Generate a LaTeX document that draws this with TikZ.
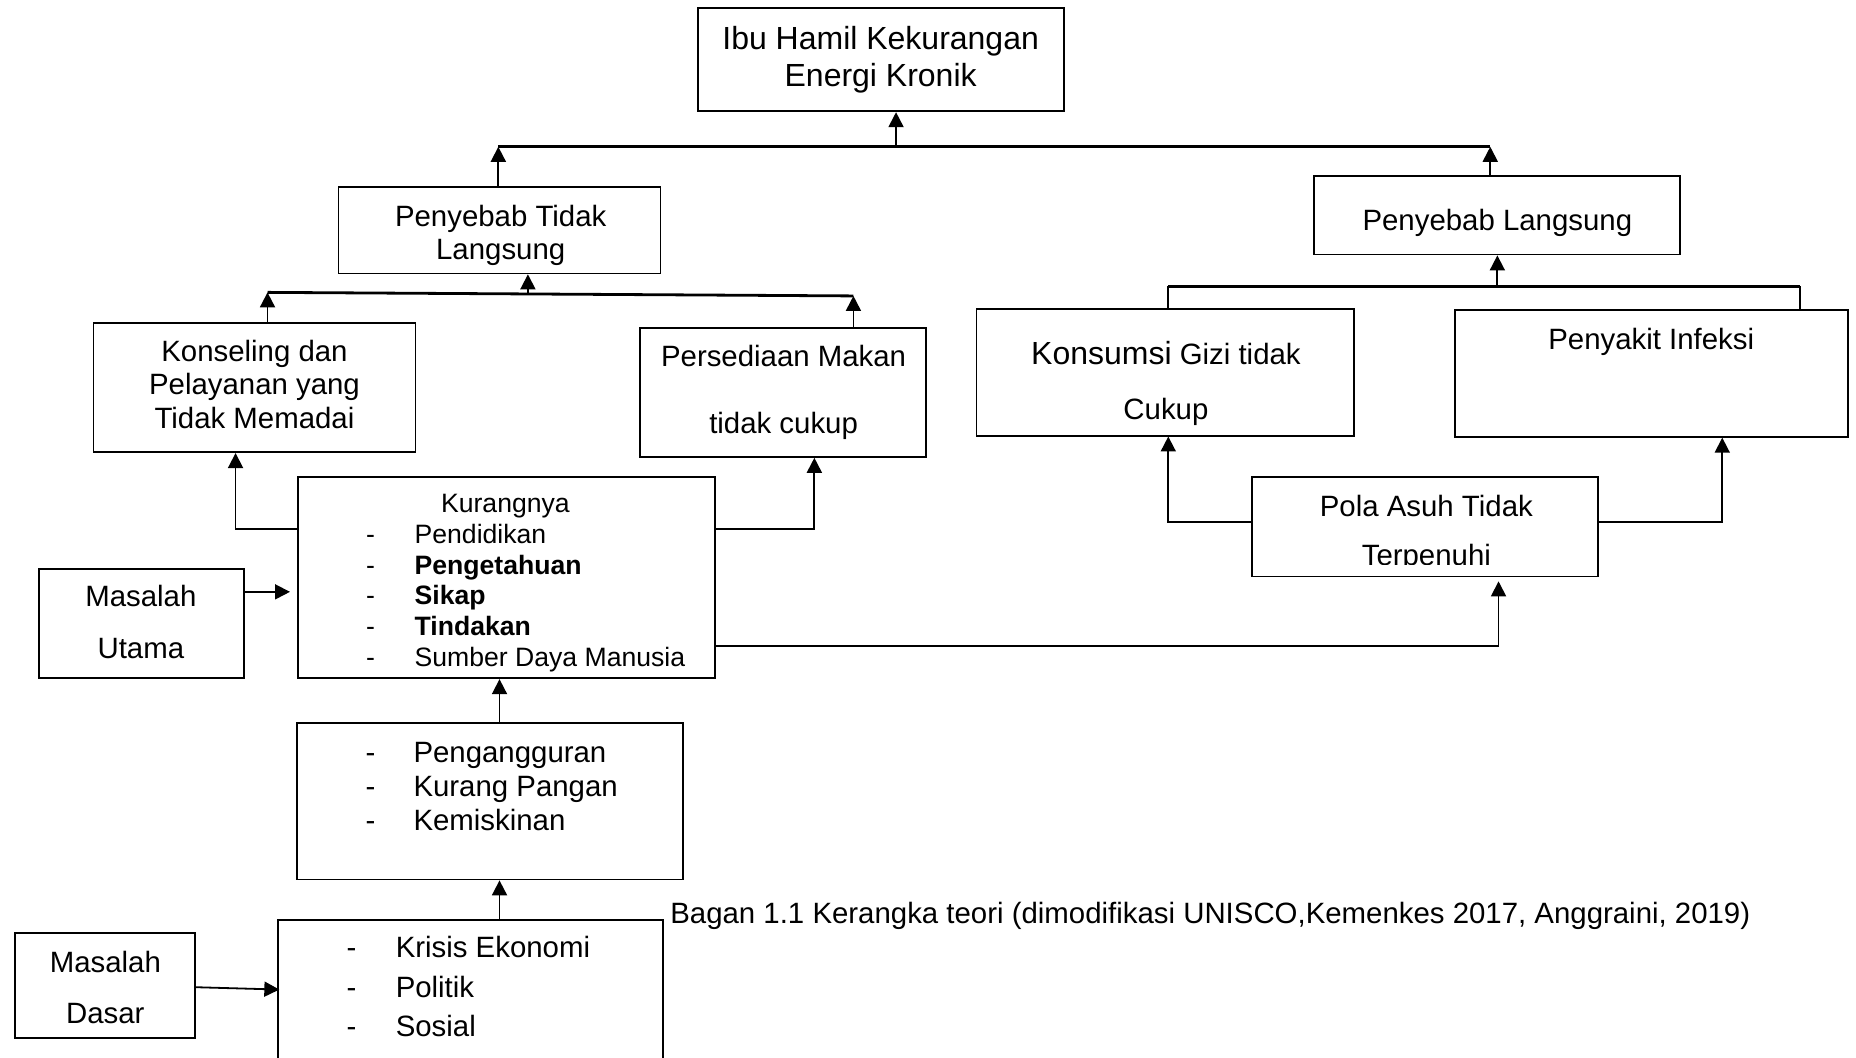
\documentclass[tikz,border=0pt]{standalone}
\usepackage{fontspec}
\setmainfont{Liberation Sans}
\usetikzlibrary{arrows.meta,fit}
\begin{document}
\begin{tikzpicture}[x=0.592pt,y=-0.592pt,
  box/.style={draw, line width=0.9pt, inner sep=0pt},
  conn/.style={line width=0.9pt},
  bus/.style={line width=1.4pt},
  arr/.style={conn, -{Triangle[length=7.5pt,width=7.5pt]}},
  big/.style={font=\fontsize{16}{19}\selectfont, anchor=base, inner sep=0pt},
  txt/.style={font=\fontsize{14.7}{17}\selectfont, anchor=base, inner sep=0pt},
  sml/.style={font=\fontsize{13.3}{15}\selectfont, anchor=base, inner sep=0pt},
  item/.style={txt, anchor=base west},
  sitem/.style={sml, anchor=base west},
  ]
\useasboundingbox[fill=white] (0,0) rectangle (1568,893);

% boxes
\node[box, fit={(590,7) (899,94)}] (top) {};
\node[box, fit={(286,158) (558,231)}] (ptl) {};
\node[box, fit={(1110,149) (1419,215)}] (pl) {};
\node[box, fit={(79,273) (351,382)}] (kons) {};
\node[box, fit={(541,277) (782,386)}] (pers) {};
\node[box, fit={(252,403) (604,573)}] (kur) {};
\node[box, fit={(33,481) (206,573)}] (mu) {};
\node[box, fit={(251,611) (577,743)}] (peng) {};
\node[box, fit={(235,777) (560,905)}] (kris) {};
\node[box, fit={(13,788) (165,877)}] (md) {};
\node[box, fit={(825,261) (1144,368)}] (kgz) {};
\node[box, fit={(1229,262) (1561,369)}] (pi) {};
\node[box, fit={(1058,403) (1350,487)}] (pola) {};

% texts
\node[big] (t1a) at (744,42) {Ibu Hamil Kekurangan};
\node[big] (t1b) at (744,73) {Energi Kronik};
\node[txt] (t2a) at (423,191) {Penyebab Tidak};
\node[txt] (t2b) at (423,219) {Langsung};
\node[txt] (t3) at (1265,195) {Penyebab Langsung};
\node[txt] (t4a) at (215,305) {Konseling dan};
\node[txt] (t4b) at (215,333) {Pelayanan yang};
\node[txt] (t4c) at (215,362) {Tidak Memadai};
\node[txt] (t5a) at (662,310) {Persediaan Makan};
\node[txt] (t5b) at (662,366) {tidak cukup};
\node[txt] (t6a) at (985,308) {{\fontsize{16}{19}\selectfont Konsumsi} Gizi tidak};
\node[txt] (t6b) at (985,354) {Cukup};
\node[txt] (t7) at (1395,295) {Penyakit Infeksi};
\node[txt] (t8a) at (1205,436) {Pola Asuh Tidak};
\begin{scope}
  \clip (1058,403) rectangle (1350,477);
  \node[txt] (t8b) at (1205,478) {Terpenuhi};
\end{scope}
\node[sml] (t9) at (427,433) {Kurangnya};
\foreach \y/\s [count=\i] in {459/Pendidikan,485/\textbf{Pengetahuan},511/\textbf{Sikap},537/\textbf{Tindakan},563/Sumber Daya Manusia}{
  \node[sml] (kd\i) at (313,\y) {-};
  \node[sitem] (ki\i) at (350,\y) {\s};
}
\node[txt] (t10a) at (119,512) {Masalah};
\node[txt] (t10b) at (119,556) {Utama};
\foreach \y/\s [count=\i] in {644/Pengangguran,673/Kurang Pangan,702/Kemiskinan}{
  \node[txt] (pd\i) at (313,\y) {-};
  \node[item] (pi\i) at (349,\y) {\s};
}
\foreach \y/\s [count=\i] in {809/Krisis Ekonomi,843/Politik,876/Sosial}{
  \node[txt] (rd\i) at (297,\y) {-};
  \node[item] (ri\i) at (334,\y) {\s};
}
\node[txt] (t11a) at (89,822) {Masalah};
\node[txt] (t11b) at (89,865) {Dasar};
\node[item] (cap) at (566,780) {Bagan 1.1 Kerangka teori (dimodifikasi UNISCO,Kemenkes 2017, Anggraini, 2019)};

% top level bus
\coordinate (busTL) at (421,124);
\coordinate (busTR) at (1259,124);
\coordinate (busTM) at (757,124);
\draw[bus] (busTL) -- (busTR);
\draw[arr] (busTM) -- (busTM |- top.south);
\draw[arr] (busTL |- ptl.north) -- (busTL);
\draw[arr] (busTR |- pl.north) -- (busTR);

% indirect causes bus
\coordinate (busLL) at (226,247);
\coordinate (busLR) at (721,250);
\coordinate (busLM) at (446,248);
\draw[bus] (busLL) -- (busLR);
\draw[arr] (busLM) -- (busLM |- ptl.south);
\draw[arr] (busLL |- kons.north) -- (busLL);
\draw[arr] (busLR |- pers.north) -- (busLR);

% from Kurangnya
\coordinate (kl) at (199,447);
\coordinate (kr) at (688,447);
\coordinate (kp) at (1266,546);
\draw[arr] (kur.west |- kl) -- (kl) -- (kl |- kons.south);
\draw[arr] (kur.east |- kr) -- (kr) -- (kr |- pers.south);
\draw[arr] (kur.east |- kp) -- (kp) -- ([yshift=-2pt]kp |- pola.south);
\coordinate (muk) at (245,500);
\draw[arr] (mu.east |- muk) -- (muk);

% lower chain
\coordinate (ax) at (422,600);
\draw[arr] (ax |- peng.north) -- (ax |- kur.south);
\draw[arr] (ax |- kris.north) -- (ax |- peng.south);
\coordinate (mdk) at (236,836);
\coordinate (mds) at (165,834);
\draw[arr] (mds) -- (mdk);

% direct causes bus
\coordinate (rbl) at (987,242);
\coordinate (rbr) at (1521,242);
\coordinate (rbm) at (1265,242);
\draw[bus] (rbl) -- (rbr);
\draw[conn] (rbl) -- (rbl |- kgz.north);
\draw[conn] (rbr) -- (rbr |- pi.north);
\draw[arr] (rbm) -- (rbm |- pl.south);

% from Pola Asuh
\coordinate (pll) at (987,441);
\coordinate (plr) at (1455,441);
\draw[arr] (pola.west |- pll) -- (pll) -- (pll |- kgz.south);
\draw[arr] (pola.east |- plr) -- (plr) -- (plr |- pi.south);
\end{tikzpicture}
\end{document}
